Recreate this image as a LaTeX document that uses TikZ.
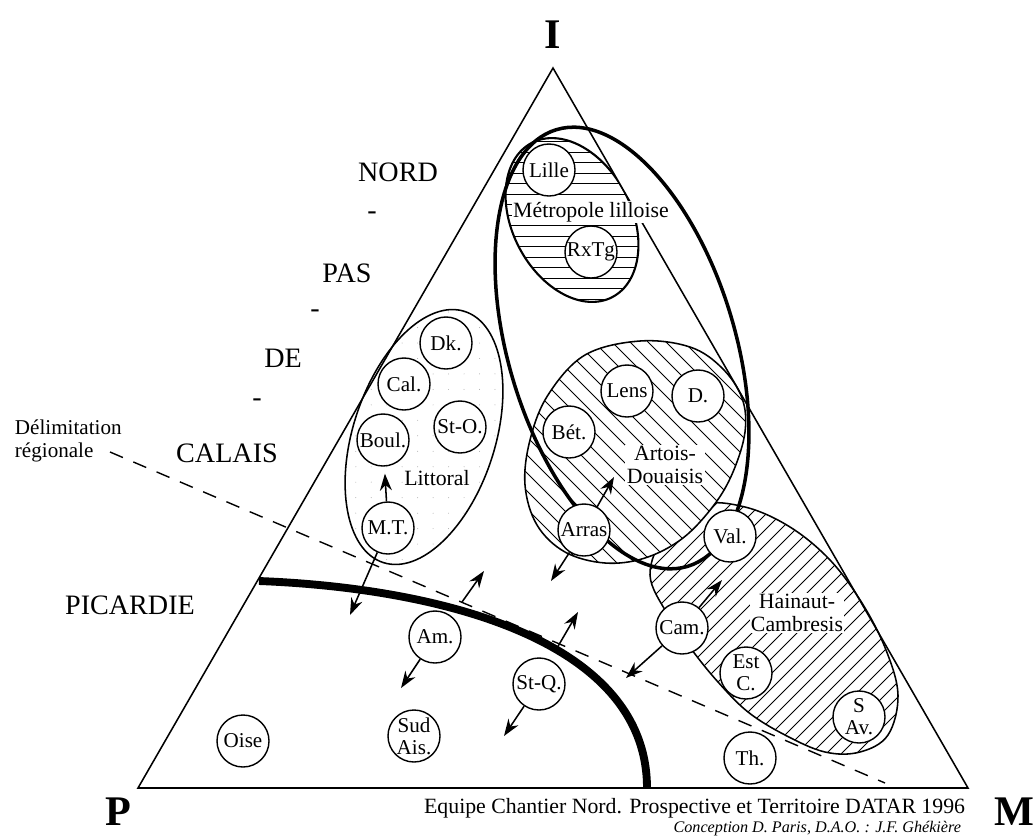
\documentclass[tikz,border=0pt]{standalone}
\usepackage{fontspec}
\setmainfont{Liberation Serif}
\usetikzlibrary{arrows.meta, patterns.meta, positioning}

% --- Contours des zones ---
\def\contourTriangle{(553,68) -- (138,788) -- (968,788) -- cycle}
\def\contourArtois{plot[smooth cycle, tension=0.6] coordinates {(640,341) (690,347) (722,368) (742,398) (745,432) (733,472) (714,505) (683,538) (645,558) (605,563) (565,552) (537,525) (525,485) (530,440) (548,395) (585,355)}}
\def\contourHainaut{plot[smooth cycle, tension=0.6] coordinates {(700,505) (745,507) (790,527) (830,560) (862,603) (886,650) (898,695) (888,735) (860,752) (825,752) (785,735) (748,712) (718,682) (692,650) (668,615) (650,575) (665,535)}}

\begin{document}
\begin{tikzpicture}[x=0.025cm, y=-0.025cm,
            ville/.style   ={circle, draw, line width=1pt, fill=white, minimum size=1.3cm,
                             inner sep=0pt, align=center, font=\fontsize{15}{15.5}\selectfont},
            zone/.style    ={align=center, font=\fontsize{15.5}{16.5}\selectfont},
            region/.style  ={font=\fontsize{20}{22}\selectfont},
            sommet/.style  ={font=\fontsize{30}{32}\selectfont\bfseries},
            fleche/.style  ={-{Stealth[length=12pt, width=8.5pt]}, line width=1.1pt},
            hachure/.style ={line width=0.6pt},
            contour/.style ={line width=1.1pt}
        ]
            \useasboundingbox (0,0) rectangle (1035,838);

            % --- Zone Littoral (pointillé) ---
            \draw[contour, pattern={Dots[distance=11pt, radius=0.35pt]}, pattern color=gray!70,
                  rotate around={-18:(424,437)}] (424,437) ellipse [x radius=71, y radius=132];

            % --- Zone Hainaut-Cambresis (hachures /) ---
            \begin{scope}
                \clip \contourHainaut;
                \foreach \c in {1130,1145,...,1700}
                    \draw[hachure] (\c-480,480) -- (\c-780,780);
            \end{scope}
            \draw[contour] \contourHainaut;

            % --- Zone Artois-Douaisis (hachures \) ---
            \fill[white] \contourArtois;
            \begin{scope}
                \clip \contourArtois;
                \foreach \c in {0,18,...,360}
                    \draw[hachure] (\c+330,330) -- (\c+590,590);
            \end{scope}
            \draw[contour] \contourArtois;

            % --- Métropole lilloise (hachures horizontales) ---
            \begin{scope}
                \clip \contourTriangle;
                \begin{scope}
                    \clip[rotate around={27.6:(572,220)}] (572,220) ellipse [x radius=59.6, y radius=87];
                    \foreach \y in {131,141.5,...,310}
                        \draw[hachure] (490,\y) -- (660,\y);
                \end{scope}
                \draw[line width=1.5pt, rotate around={27.6:(572,220)}] (572,220) ellipse [x radius=59.6, y radius=87];
            \end{scope}

            % --- Triangle ---
            \draw[line width=1.1pt] \contourTriangle;

            % --- Délimitation régionale et limite Picardie ---
            \coordinate (delimA) at (110,452);
            \coordinate (delimB) at (885,783);
            \draw[line width=1pt, dash pattern=on 10pt off 8pt] (delimA) -- (delimB);
            \coordinate (picA) at (259,581);
            \coordinate (picB) at (647,788);
            \draw[line width=5.6pt] (picA) .. controls (440,588) and (647,640) .. (picB);

            % --- Grande ellipse (Métropole - Artois - Hainaut) ---
            \draw[line width=2.5pt, rotate around={16.7:(622,348)}] (622,348) ellipse [x radius=113.5, y radius=228];

            % --- Noms des zones ---
            \node[zone, fill=white, inner sep=1pt] (metro)    at (591,212) {Métropole lilloise};
            \node[zone]                            (littoral) at (437,478) {Littoral};
            \node[zone, fill=white, inner sep=1pt] (artois)   at (665,465) {Artois-\\Douaisis};
            \node[zone, fill=white, inner sep=1pt] (hainaut)  at (797,613) {Hainaut-\\Cambresis};

            % --- Villes ---
            \node[ville] (lille)  at (549,170) {Lille};
            \node[ville] (rxtg)   at (591,252) {RxTg};
            \node[ville] (dk)     at (446,343) {Dk.};
            \node[ville] (cal)    at (404,384) {Cal.};
            \node[ville] (boul)   at (383,440) {Boul.};
            \node[ville] (sto)    at (460,427) {St-O.};
            \node[ville] (mt)     at (388,528) {M.T.};
            \node[ville] (lens)   at (627,391) {Lens};
            \node[ville] (douai)  at (698,396) {D.};
            \node[ville] (bet)    at (569,432) {Bét.};
            \node[ville] (arras)  at (584,530) {Arras};
            \node[ville] (val)    at (730,536) {Val.};
            \node[ville] (cam)    at (682,628) {Cam.};
            \node[ville] (estc)   at (746,673) {Est\\C.};
            \node[ville] (sav)    at (859,717) {S\\Av.};
            \node[ville] (th)     at (750,758) {Th.};
            \node[ville] (am)     at (435,637) {Am.};
            \node[ville] (stq)    at (539,684) {St-Q.};
            \node[ville] (sudais) at (414,736) {Sud\\Ais.};
            \node[ville] (oise)   at (243,741) {Oise};

            % --- Flèches ---
            \coordinate (mtBas)    at (350,615);
            \coordinate (amHautA)  at (462,602);
            \coordinate (amHautB)  at (484,571);
            \coordinate (amBas)    at (401,688);
            \coordinate (stqHautA) at (557,648);
            \coordinate (stqHautB) at (578,612);
            \coordinate (stqBas)   at (504,736);
            \coordinate (arrasBas) at (551,581);
            \coordinate (arrasHaut)at (614,477);
            \coordinate (camHaut)  at (722,580);
            \coordinate (camBas)   at (626,678);

            \draw[fleche, shorten >=5pt] (mt) -- (boul);
            \draw[fleche] (mt)       -- (mtBas);
            \draw[fleche] (amHautA)  -- (amHautB);
            \draw[fleche] (am)       -- (amBas);
            \draw[fleche] (stqHautA) -- (stqHautB);
            \draw[fleche] (stq)      -- (stqBas);
            \draw[fleche] (arras)    -- (arrasBas);
            \draw[fleche] (arras)    -- (arrasHaut);
            \draw[fleche] (cam)      -- (camHaut);
            \draw[fleche] (cam)      -- (camBas);

            % --- Sommets et régions ---
            \node[sommet] (sI) at (553,35)  {I};
            \node[sommet] (sP) at (118,812) {P};
            \node[sommet] (sM) at (1014,812) {M};

            \node[region] (nord)   at (398,172) {NORD};
            \node[region] (tiretA) at (372,216) {-};
            \node[region] (pas)    at (347,273) {PAS};
            \node[region] (tiretB) at (315,314) {-};
            \node[region] (de)     at (283,358) {DE};
            \node[region] (tiretC) at (257,403) {-};
            \node[region] (calais) at (227,453) {CALAIS};
            \node[region] (picardie) at (130,605) {PICARDIE};

            \node[align=left, anchor=west, font=\fontsize{15}{16}\selectfont] (delim) at (10,441) {Délimitation\\régionale};

            % --- Source ---
            \node[anchor=east, font=\fontsize{15.5}{16}\selectfont] (source) at (970,808)
                {Equipe Chantier Nord. Prospective et Territoire DATAR 1996};
            \node[anchor=east, font=\fontsize{11.5}{12}\selectfont\itshape] (credit) at (966,829)
                {Conception D. Paris, D.A.O. : J.F. Ghékière};

        \end{tikzpicture}
\end{document}
